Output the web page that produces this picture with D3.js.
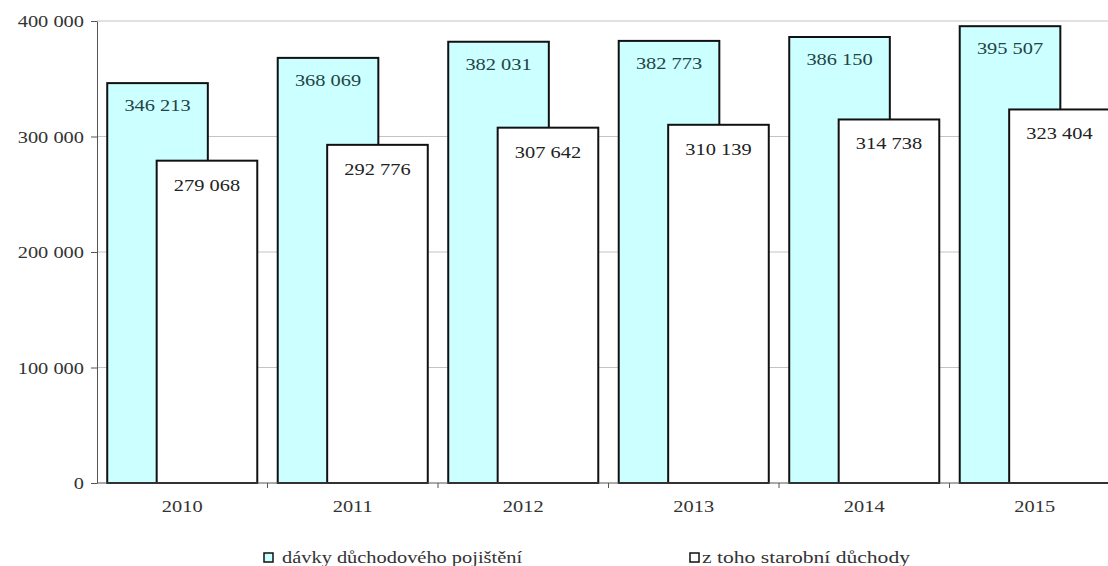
<!DOCTYPE html>
<html>
<head>
<meta charset="utf-8">
<script src="https://cdn.jsdelivr.net/npm/d3@7"></script>
<style>
  body { margin: 0; background: #fff; }
  svg text { font-family: "Liberation Serif", "Times New Roman", serif; }
</style>
</head>
<body>
<svg id="chart" width="1108" height="566"></svg>
<script>
// dávky důchodového pojištění vs. z toho starobní důchody
const years = ["2010", "2011", "2012", "2013", "2014", "2015"];
const benefits = [346213, 368069, 382031, 382773, 386150, 395507];
const oldAge = [279068, 292776, 307642, 310139, 314738, 323404];
const yTicks = [0, 100000, 200000, 300000, 400000];
const seriesNames = ["dávky důchodového pojištění", "z toho starobní důchody"];

(function renderChart() {
  const svg = d3.select("#chart");
  const left = 97, top = 21, bottom = 483, groupW = 170.5;
  const fontSize = 17, stretch = 1.2;

  const x = d3.scaleBand()
    .domain(years)
    .range([left, left + groupW * years.length])
    .padding(0);
  const y = d3.scaleLinear().domain([0, 400000]).range([bottom, top]);

  const fmt = v => d3.format(",")(v).replace(/,/g, " ");

  // stretched text helper (the original font is wide)
  function label(g, tx, ty, txt, anchor, color, sx) {
    return g.append("text")
      .attr("transform", `translate(${tx},${ty}) scale(${sx || stretch},1)`)
      .attr("text-anchor", anchor)
      .attr("font-size", fontSize)
      .attr("fill", color)
      .text(txt);
  }

  // grid
  svg.append("g").selectAll("line")
    .data(yTicks.filter(d => d > 0))
    .enter().append("line")
    .attr("x1", left).attr("x2", 1108)
    .attr("y1", d => y(d)).attr("y2", d => y(d))
    .attr("stroke", "#c4c4c4").attr("stroke-width", 1);

  // y axis
  const yAxis = svg.append("g")
    .attr("transform", `translate(${left},0)`)
    .call(d3.axisLeft(y).tickValues(yTicks).tickSize(6).tickSizeOuter(0).tickFormat(() => ""));
  yAxis.select(".domain").attr("stroke", "#555");
  yAxis.selectAll(".tick line").attr("stroke", "#555");
  const yl = svg.append("g");
  yTicks.forEach(t => label(yl, left - 13, y(t) + 6, fmt(t), "end", "#333"));

  const bw = x.bandwidth();
  const blueOff = 0.06 * bw, whiteOff = 0.35 * bw, barW = 0.59 * bw;

  // blue bars
  const g = svg.append("g");
  g.selectAll("rect.blue")
    .data(benefits)
    .enter().append("rect")
    .attr("class", "blue")
    .attr("x", (d, i) => x(years[i]) + blueOff)
    .attr("y", d => y(d))
    .attr("width", barW)
    .attr("height", d => bottom - y(d))
    .attr("fill", "#ccffff")
    .attr("stroke", "#111").attr("stroke-width", 2);

  // white bars
  g.selectAll("rect.white")
    .data(oldAge)
    .enter().append("rect")
    .attr("class", "white")
    .attr("x", (d, i) => x(years[i]) + whiteOff)
    .attr("y", d => y(d))
    .attr("width", barW)
    .attr("height", d => bottom - y(d))
    .attr("fill", "#fff")
    .attr("stroke", "#111").attr("stroke-width", 2);

  // value labels
  benefits.forEach((d, i) =>
    label(g, x(years[i]) + blueOff + barW / 2, y(d) + 28, fmt(d), "middle", "#234444"));
  oldAge.forEach((d, i) =>
    label(g, x(years[i]) + whiteOff + barW / 2, y(d) + 30, fmt(d), "middle", "#222"));

  // x axis
  const xa = svg.append("g");
  xa.append("line")
    .attr("x1", left).attr("x2", 1108)
    .attr("y1", bottom).attr("y2", bottom)
    .attr("stroke", "#555");
  xa.selectAll("line.tick")
    .data(years)
    .enter().append("line")
    .attr("class", "tick")
    .attr("x1", d => x(d) + bw).attr("x2", d => x(d) + bw)
    .attr("y1", bottom).attr("y2", bottom + 5)
    .attr("stroke", "#555");
  years.forEach(yr => label(xa, x(yr) + bw / 2, bottom + 29, yr, "middle", "#333"));

  // legend
  const legend = svg.append("g");
  const items = [
    { name: seriesNames[0], fill: "#ccffff", sx: 264, tx: 282, st: 1.2 },
    { name: seriesNames[1], fill: "#fff", sx: 690, tx: 702, st: 1.27 }
  ];
  items.forEach(it => {
    legend.append("rect")
      .attr("x", it.sx).attr("y", 553)
      .attr("width", 9).attr("height", 9)
      .attr("fill", it.fill)
      .attr("stroke", "#111").attr("stroke-width", 1.5);
    label(legend, it.tx, 563, it.name, "start", "#333", it.st);
  });
})();
</script>
</body>
</html>
